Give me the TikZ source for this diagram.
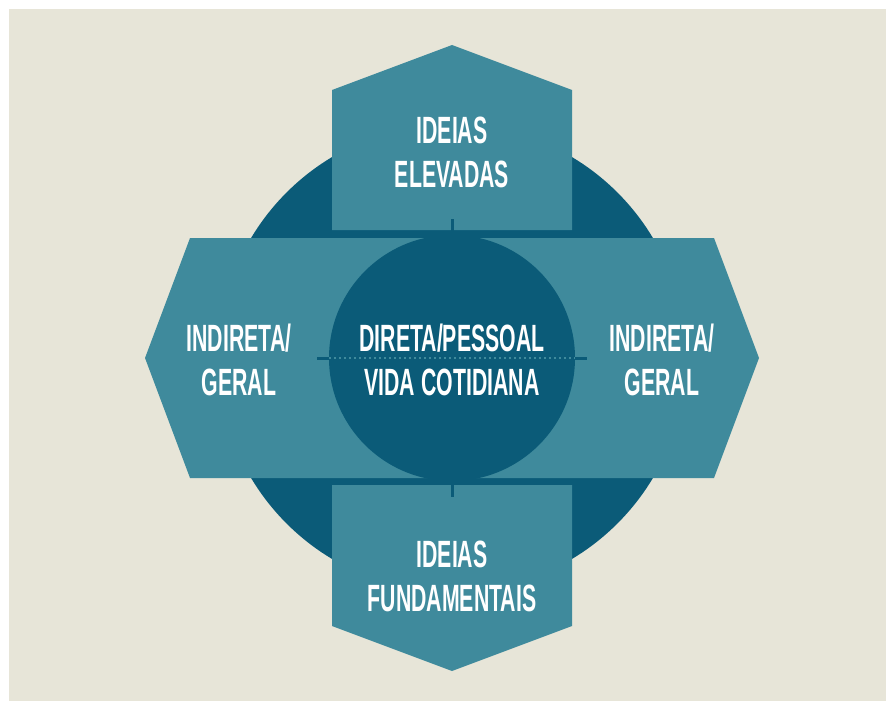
\documentclass[tikz,border=0pt]{standalone}
\usepackage{fontspec}
\setmainfont{Liberation Sans}[FakeStretch=0.56]

\definecolor{paper}{HTML}{E7E5D8}
\definecolor{lightteal}{HTML}{3F8A9C}
\definecolor{darkteal}{HTML}{0B5B78}

\begin{document}
\begin{tikzpicture}
                        [x=1pt,y=-1pt,
                         arm/.style={fill=lightteal},
                         wordbox/.style={text=white,align=center,inner sep=0pt,
                           font=\fontsize{38}{44}\selectfont\bfseries},
                         notch/.style={draw=darkteal,line width=3pt}]
                        \fill[white] (0,0) rectangle (886,701);
                        \fill[paper] (9,9) rectangle (886,701);
                        \fill[darkteal] (452,358) circle[radius=234pt];
                        % arms up and down
                        \fill[arm] (332,230) -- (332,90) -- (452,45) -- (572,90) -- (572,230) -- cycle;
                        \fill[arm] (332,485) -- (332,626) -- (452,671) -- (572,626) -- (572,485) -- cycle;
                        % arms left and right
                        \fill[arm] (145,358) -- (190,238) -- (714,238) -- (759,358) -- (714,478) -- (190,478) -- cycle;
                        \node[circle,fill=darkteal,minimum size=246pt,inner sep=0pt] (core) at (452,358) {};
                        \draw[notch] (core.north) -- ++(0,-16);
                        \draw[notch] (core.south) -- ++(0,16);
                        \draw[notch] (core.west) -- ++(-12,0);
                        \draw[notch] (core.east) -- ++(12,0);
                        \draw[lightteal,line width=2pt,dash pattern=on 2pt off 3pt] (core.west) -- (core.east);
                        \node[wordbox] (daily) at (452,360) {DIRETA/PESSOAL\\VIDA COTIDIANA};
                        \node[wordbox] (high) at (452,152) {IDEIAS\\ELEVADAS};
                        \node[wordbox] (base) at (452,576) {IDEIAS\\FUNDAMENTAIS};
                        \node[wordbox] (indleft) at (239,360) {INDIRETA/\\GERAL};
                        \node[wordbox] (indright) at (662,360) {INDIRETA/\\GERAL};
                    \end{tikzpicture}
\end{document}
